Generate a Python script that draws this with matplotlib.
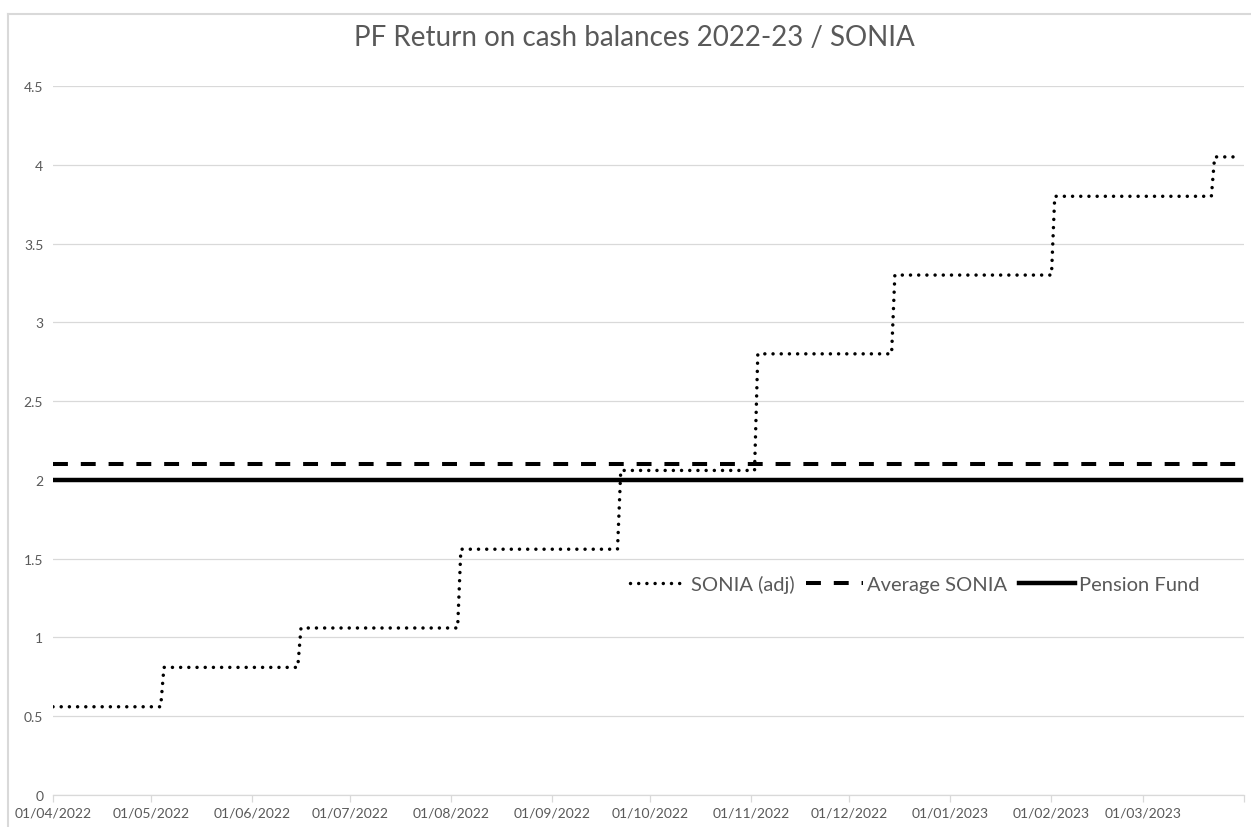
import numpy as np
import pandas as pd
import matplotlib
matplotlib.use("Agg")
import matplotlib.pyplot as plt
from matplotlib.lines import Line2D

# ---- data ----
start_date = "2022-04-01"
end_date = "2023-03-31"
sonia_start_rate = 0.56
change_dates = ["2022-05-05", "2022-06-16", "2022-08-04", "2022-09-22",
                "2022-11-03", "2022-12-15", "2023-02-02", "2023-03-23"]
change_rates = [0.81, 1.06, 1.56, 2.06, 2.80, 3.30, 3.80, 4.05]
average_sonia = 2.10
pension_fund = 2.00
tick_months = pd.date_range("2022-04-01", "2023-04-01", freq="MS")
tick_labels = [d.strftime("%d/%m/%Y") for d in tick_months[:-1]] + [""]
title = "PF Return on cash balances 2022-23 / SONIA"

# build SONIA daily-style line (one-day riser between levels)
xs = [pd.Timestamp(start_date)]
ys = [sonia_start_rate]
prev = sonia_start_rate
for d, r in zip(change_dates, change_rates):
    d = pd.Timestamp(d)
    xs += [d - pd.Timedelta(days=1), d]
    ys += [prev, r]
    prev = r
xs.append(pd.Timestamp(end_date))
ys.append(prev)

FONT = ["Lato", "DejaVu Sans"]
GREY = "#595959"
GRID = "#d9d9d9"

fig = plt.figure(figsize=(12.51, 8.28), dpi=100)
ax = fig.add_axes([53/1251, 1-796/828, (1244-53)/1251, (796-87)/828])

ax.plot(xs, ys, color="black", lw=2.5, linestyle=(0, (0.01, 2.35)),
        dash_capstyle="round", label="SONIA (adj)", zorder=3)
ax.plot([pd.Timestamp(start_date), pd.Timestamp(end_date)], [average_sonia]*2,
        color="black", lw=2.9, linestyle=(0, (3.7, 3.2)), label="Average SONIA", zorder=2)
ax.plot([pd.Timestamp(start_date), pd.Timestamp(end_date)], [pension_fund]*2,
        color="black", lw=3.2, linestyle="-", label="Pension Fund", zorder=2)

ax.set_xlim(pd.Timestamp("2022-04-01"), pd.Timestamp("2023-04-01"))
ax.set_ylim(0, 4.5)
ax.set_yticks(np.arange(0, 4.51, 0.5))
ax.set_yticklabels(["0", "0.5", "1", "1.5", "2", "2.5", "3", "3.5", "4", "4.5"])
ax.set_xticks(tick_months)
ax.set_xticklabels(tick_labels)

ax.grid(axis="y", color=GRID, lw=0.9, zorder=0)
ax.set_axisbelow(True)
for s in ["top", "right", "left"]:
    ax.spines[s].set_visible(False)
ax.spines["bottom"].set_color(GRID)
ax.spines["bottom"].set_linewidth(0.9)
ax.tick_params(axis="y", length=0, pad=7, labelcolor=GREY, labelsize=10)
ax.tick_params(axis="x", length=5, width=0.9, color=GRID, pad=3, labelcolor=GREY, labelsize=10)
for lab in ax.get_xticklabels() + ax.get_yticklabels():
    lab.set_family(FONT)

fig.text(634/1251, 1-38/828, title, ha="center", va="center", fontsize=20,
         color=GREY, family=FONT)

leg = fig.legend(loc="center", bbox_to_anchor=(915/1251, 1-585/828), ncol=3,
                 frameon=False, handlelength=2.8, handletextpad=0.2, columnspacing=0.6,
                 prop={"family": FONT, "size": 14.5})
for t in leg.get_texts():
    t.set_color(GREY)

# chart area border (left and top visible)
fig.add_artist(Line2D([7.5/1251, 7.5/1251], [0, 1-15/828], transform=fig.transFigure,
                      color=GRID, lw=1.5))
fig.add_artist(Line2D([7.5/1251, 1], [1-15/828, 1-15/828], transform=fig.transFigure,
                      color=GRID, lw=1.5))

fig.savefig("out.png", dpi=100)
